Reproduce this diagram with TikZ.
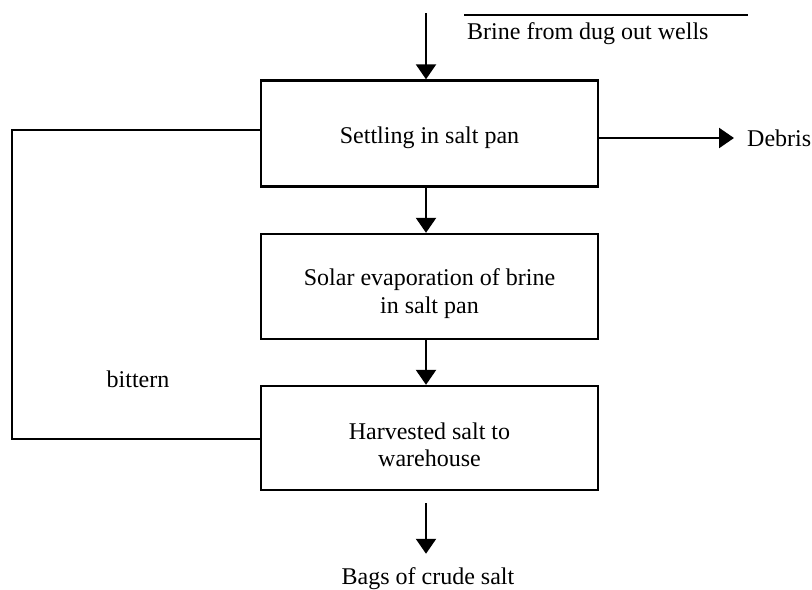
\documentclass[tikz,border=0pt]{standalone}
\usepackage{fontspec}
\setmainfont{Liberation Serif}
\usetikzlibrary{arrows.meta}
\begin{document}
\begin{tikzpicture}[x=0.5pt,y=-0.5pt,
  line width=1.2pt,
  every node/.style={font=\fontsize{12}{13.6}\selectfont, text=black},
  procbox/.style={draw, minimum width=168.5pt, minimum height=53pt, inner sep=0pt},
  boxtext/.style={align=center, inner sep=0pt},
  flow/.style={-{Triangle[length=7.5pt,width=10pt]}},
  lab/.style={inner sep=0pt}]
\useasboundingbox (0,0) rectangle (812,589);
\coordinate (ax) at (426,0);
\node[procbox] (b1) at (429.5,133.5) {};
\node[procbox, minimum height=52.5pt] (b2) at (429.5,286.5) {};
\node[procbox, minimum height=52pt] (b3) at (429.5,438) {};
\node[boxtext] (t1) at ([yshift=-2pt]b1.center) {Settling in salt pan};
\node[boxtext] (t2) at ([yshift=-3.5pt]b2.center) {Solar evaporation of brine\\in salt pan};
\node[boxtext] (t3) at ([yshift=-3.5pt]b3.center) {Harvested salt to\\warehouse};
% top input
\coordinate (top) at (426,13);
\coordinate (bl) at (464,15);
\coordinate (br) at (748,15);
\draw (bl) -- (br);
\node[lab, anchor=west] (brine) at (466,34) {Brine from dug out wells};
\draw[flow] (top) -- (b1.north -| ax);
% debris
\node[lab, anchor=west] (debris) at (746,138) {Debris};
\draw[flow] (b1.east |- debris) -- ([xshift=-6pt]debris.west);
% between boxes
\draw[flow] (b1.south -| ax) -- (b2.north -| ax);
\draw[flow] (b2.south -| ax) -- (b3.north -| ax);
% bottom
\coordinate (bs) at (426,503);
\node[lab] (bags) at (428,579) {Bags of crude salt};
\draw[flow] (bs) -- ([yshift=6.5pt]bags.north -| ax);
% bittern loop
\coordinate (l1) at (261,130);
\coordinate (lc1) at (12,130);
\coordinate (lc2) at (12,439);
\coordinate (l2) at (261,439);
\draw (l1) -- (lc1) -- (lc2) -- (l2);
\node[lab] (bit) at (138,379) {bittern};
\end{tikzpicture}
\end{document}
